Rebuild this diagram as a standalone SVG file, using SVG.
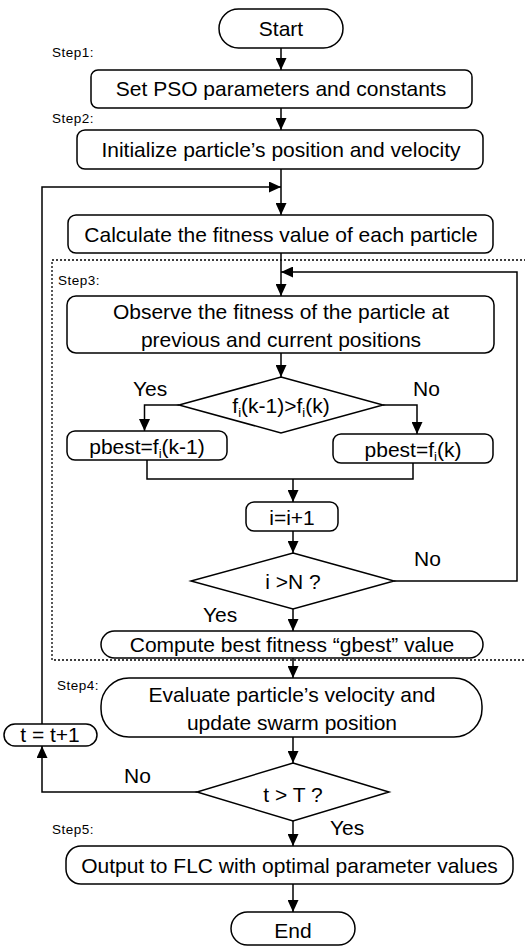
<svg xmlns="http://www.w3.org/2000/svg" width="525" height="947" viewBox="0 0 525 947">
<style>
.box{fill:#fff;stroke:#000;stroke-width:1.5}
.ln{fill:none;stroke:#000;stroke-width:1.5}
.arr{fill:none;stroke:#000;stroke-width:1.5;marker-end:url(#ah)}
.dot{fill:none;stroke:#000;stroke-width:1.3;stroke-dasharray:2 2}
.t{font-family:"Liberation Sans",Arial,sans-serif;font-size:21px;fill:#000;text-anchor:middle}
.lb{font-family:"Liberation Sans",Arial,sans-serif;font-size:21px;fill:#000}
.st{font-family:"Liberation Sans",Arial,sans-serif;font-size:13.5px;fill:#000;letter-spacing:0.5px}
.sub{font-size:13px}
</style>
<defs>
<marker id="ah" markerUnits="userSpaceOnUse" markerWidth="12" markerHeight="11" refX="12" refY="5.5" orient="auto">
<path d="M0,0 L12,5.5 L0,11 z" fill="#000"/>
</marker>
</defs>
<rect class="dot" x="52" y="260" width="480" height="400"/>
<g id="connectors">
<line class="arr" x1="281" y1="48" x2="281" y2="70"/>
<line class="arr" x1="281" y1="108" x2="281" y2="130"/>
<line class="arr" x1="281" y1="169" x2="281" y2="215"/>
<polyline class="arr" points="42,724 42,187 281,187"/>
<line class="arr" x1="281" y1="253" x2="281" y2="296"/>
<polyline class="arr" points="394,581 517,581 517,272 281,272"/>
<line class="arr" x1="281" y1="353" x2="281" y2="377"/>
<polyline class="arr" points="179,405 144.5,405 144.5,431"/>
<polyline class="arr" points="383,405 417,405 417,434"/>
<polyline class="ln" points="147,460 147,479 413,479 413,463"/>
<line class="arr" x1="293" y1="479" x2="293" y2="502"/>
<line class="arr" x1="293" y1="531" x2="293" y2="553"/>
<line class="arr" x1="293" y1="609" x2="293" y2="631"/>
<line class="arr" x1="293" y1="658" x2="293" y2="678"/>
<line class="arr" x1="293" y1="737" x2="293" y2="763"/>
<polyline class="arr" points="197,792 42,792 42,746"/>
<line class="arr" x1="293" y1="821" x2="293" y2="846"/>
<line class="arr" x1="293" y1="884" x2="293" y2="912"/>
</g>
<g id="labels">
<text class="st" x="52" y="57">Step1:</text>
<text class="st" x="52" y="123">Step2:</text>
<text class="st" x="58" y="285">Step3:</text>
<text class="st" x="57" y="690">Step4:</text>
<text class="st" x="52" y="834">Step5:</text>
<text class="lb" x="133" y="396">Yes</text>
<text class="lb" x="413" y="396">No</text>
<text class="lb" x="414" y="566">No</text>
<text class="lb" x="203" y="622">Yes</text>
<text class="lb" x="124" y="783">No</text>
<text class="lb" x="330" y="835">Yes</text>
</g>
<g id="start"><rect class="box" x="219" y="9" width="124" height="39" rx="19.5"/><text class="t" x="281" y="36">Start</text></g>
<g id="set"><rect class="box" x="91" y="70" width="381" height="38" rx="7"/><text class="t" x="281" y="96">Set PSO parameters and constants</text></g>
<g id="init"><rect class="box" x="77" y="130" width="406" height="39" rx="8"/><text class="t" x="281" y="157">Initialize particle’s position and velocity</text></g>
<g id="calc"><rect class="box" x="68" y="215" width="425" height="38" rx="8"/><text class="t" x="281" y="242">Calculate the fitness value of each particle</text></g>
<g id="observe"><rect class="box" x="67" y="296" width="427" height="57" rx="9"/><text class="t" x="281" y="319">Observe the fitness of the particle at</text><text class="t" x="281" y="347">previous and current positions</text></g>
<g id="cond1"><polygon class="box" points="281,377 383,405 281,433 179,405"/><text class="t" x="281" y="413">f<tspan class="sub" dy="4">i</tspan><tspan dy="-4">(k-1)&gt;f</tspan><tspan class="sub" dy="4">i</tspan><tspan dy="-4">(k)</tspan></text></g>
<g id="pbest1"><rect class="box" x="67" y="431" width="160" height="29" rx="8"/><text class="t" x="147" y="454">pbest=f<tspan class="sub" dy="4">i</tspan><tspan dy="-4">(k-1)</tspan></text></g>
<g id="pbest2"><rect class="box" x="333" y="434" width="160" height="29" rx="8"/><text class="t" x="413" y="457">pbest=f<tspan class="sub" dy="4">i</tspan><tspan dy="-4">(k)</tspan></text></g>
<g id="inc"><rect class="box" x="246" y="502" width="92" height="29" rx="8"/><text class="t" x="292" y="525">i=i+1</text></g>
<g id="cond2"><polygon class="box" points="293,553 394,581 293,609 191,581"/><text class="t" x="293" y="589">i &gt;N ?</text></g>
<g id="gbest"><rect class="box" x="101" y="631" width="382" height="27" rx="13.5"/><text class="t" x="292" y="652">Compute best fitness “gbest” value</text></g>
<g id="evaluate"><rect class="box" x="101" y="678" width="381" height="59" rx="28"/><text class="t" x="292" y="702">Evaluate particle’s velocity and</text><text class="t" x="292" y="730">update swarm position</text></g>
<g id="tinc"><rect class="box" x="4" y="724" width="93" height="22" rx="11"/><text class="t" x="50" y="742">t = t+1</text></g>
<g id="cond3"><polygon class="box" points="293,763 389,792 293,821 197,792"/><text class="t" x="293" y="802">t &gt; T ?</text></g>
<g id="output"><rect class="box" x="66" y="846" width="447" height="38" rx="15"/><text class="t" x="289.5" y="873">Output to FLC with optimal parameter values</text></g>
<g id="end"><rect class="box" x="231" y="912" width="124" height="33" rx="16.5"/><text class="t" x="293" y="938">End</text></g>
</svg>
